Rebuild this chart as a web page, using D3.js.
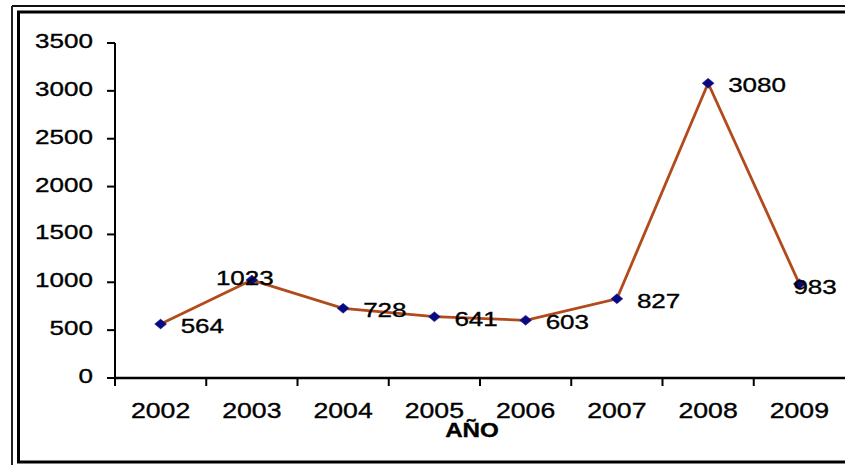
<!DOCTYPE html>
<html><head><meta charset="utf-8">
<script src="https://cdn.jsdelivr.net/npm/d3@7"></script>
<style>body{margin:0;background:#fff}svg{display:block}</style>
</head><body>
<svg id="c" width="845" height="465"></svg>
<script>
const years = ["2002","2003","2004","2005","2006","2007","2008","2009"];
const values = [564, 1023, 728, 641, 603, 827, 3080, 983];
const yTicks = [0, 500, 1000, 1500, 2000, 2500, 3000, 3500];
const axisTitle = "AÑO";

const svg = d3.select("#c");
const font = "'Liberation Sans', Arial, sans-serif";
const SX = 1.24;

// frame
svg.append("line").attr("x1",12).attr("y1",6).attr("x2",845).attr("y2",6).attr("stroke","#111").attr("stroke-width",2);
svg.append("line").attr("x1",12).attr("y1",6).attr("x2",12).attr("y2",465).attr("stroke","#222").attr("stroke-width",2);
svg.append("path").attr("d","M845,12 H18.5 V462 H845").attr("fill","none").attr("stroke","#000").attr("stroke-width",3);

const x = d3.scaleBand().domain(years).range([115, 845]);
const y = d3.scaleLinear().domain([0, 3500]).range([378, 43]);

function stext(g, tx, ty, str, anchor, size, weight) {
  return g.append("text")
    .attr("transform", `translate(${tx},${ty}) scale(${SX},1)`)
    .attr("text-anchor", anchor)
    .attr("font-family", font)
    .attr("font-size", size)
    .attr("font-weight", weight || "normal")
    .attr("fill", "#000")
    .attr("stroke", "#000")
    .attr("stroke-width", 0.35)
    .text(str);
}

// y axis
const gy = svg.append("g");
gy.append("line").attr("x1",115).attr("x2",115).attr("y1",y(3500)).attr("y2",y(0)).attr("stroke","#000").attr("stroke-width",2);
yTicks.forEach(t => {
  gy.append("line").attr("x1",107).attr("x2",115).attr("y1",y(t)).attr("y2",y(t)).attr("stroke","#000").attr("stroke-width",2);
  stext(gy, 93, y(t) + 5, String(t), "end", 21);
});

// x axis
const gx = svg.append("g");
gx.append("line").attr("x1",115).attr("x2",845).attr("y1",y(0)).attr("y2",y(0)).attr("stroke","#000").attr("stroke-width",2.5);
years.forEach((yr, i) => {
  const bx = x(yr);
  gx.append("line").attr("x1",bx).attr("x2",bx).attr("y1",y(0)).attr("y2",y(0)+8).attr("stroke","#000").attr("stroke-width",2);
  stext(gx, bx + x.bandwidth()/2, 418, yr, "middle", 21.5);
});
stext(svg, 472, 437, axisTitle, "middle", 19.5, "bold");

// line
const cx = d => x(d.year) + x.bandwidth()/2;
const data = years.map((yr, i) => ({year: yr, value: values[i]}));
svg.append("path").datum(data)
  .attr("d", d3.line().x(cx).y(d => y(d.value)))
  .attr("fill","none").attr("stroke","#B24B1C").attr("stroke-width",2.8);

// markers
svg.selectAll("path.m").data(data).enter().append("path").attr("class","m")
  .attr("d", d => { const px = cx(d), py = y(d.value); return `M${px-6},${py} L${px},${py-5} L${px+6},${py} L${px},${py+5} Z`; })
  .attr("fill","#0A0A80").attr("stroke","#2a2a90").attr("stroke-width",0.5);

// data labels
const labelOffset = {"2003": [-36, 5], "2009": [-6, 10]};
data.forEach(d => {
  const off = labelOffset[d.year] || [20, 9];
  stext(svg, cx(d) + off[0], y(d.value) + off[1], String(d.value), "start", 21);
});
</script>
</body></html>
